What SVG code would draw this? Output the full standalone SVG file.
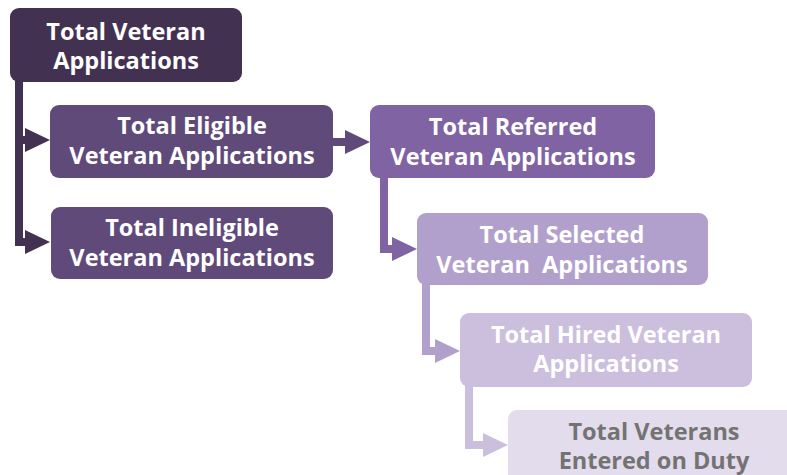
<svg xmlns="http://www.w3.org/2000/svg" width="787" height="475" viewBox="0 0 787 475">
<style>
.t{font-family:"Open Sans","Noto Sans","Liberation Sans",sans-serif;font-weight:bold;font-size:23.5px;text-anchor:middle;fill:#ffffff}
.d{fill:#737373}
.c{fill:none;stroke-width:8;stroke-linejoin:miter}
</style>
<defs>
<marker id="a1" markerUnits="userSpaceOnUse" markerWidth="25" markerHeight="24" viewBox="0 0 25 24" refX="3" refY="12" orient="auto"><path d="M0,0 L25,12 L0,24 Z" fill="#433152"/></marker>
<marker id="a2" markerUnits="userSpaceOnUse" markerWidth="25" markerHeight="24" viewBox="0 0 25 24" refX="3" refY="12" orient="auto"><path d="M0,0 L25,12 L0,24 Z" fill="#5f4a7a"/></marker>
<marker id="a3" markerUnits="userSpaceOnUse" markerWidth="25" markerHeight="24" viewBox="0 0 25 24" refX="3" refY="12" orient="auto"><path d="M0,0 L25,12 L0,24 Z" fill="#7f63a3"/></marker>
<marker id="a4" markerUnits="userSpaceOnUse" markerWidth="25" markerHeight="24" viewBox="0 0 25 24" refX="3" refY="12" orient="auto"><path d="M0,0 L25,12 L0,24 Z" fill="#b2a0cc"/></marker>
<marker id="a5" markerUnits="userSpaceOnUse" markerWidth="25" markerHeight="24" viewBox="0 0 25 24" refX="3" refY="12" orient="auto"><path d="M0,0 L25,12 L0,24 Z" fill="#cbbfdd"/></marker>
</defs>
<g id="connectors">
<path class="c" d="M19,78 V140 H28" stroke="#433152" marker-end="url(#a1)"/>
<path class="c" d="M19,78 V242 H28" stroke="#433152" marker-end="url(#a1)"/>
<path class="c" d="M330,142 H348" stroke="#5f4a7a" marker-end="url(#a2)"/>
<path class="c" d="M384,175 V249 H395" stroke="#7f63a3" marker-end="url(#a3)"/>
<path class="c" d="M426,282 V351 H438" stroke="#b2a0cc" marker-end="url(#a4)"/>
<path class="c" d="M469,384 V445 H486" stroke="#cbbfdd" marker-end="url(#a5)"/>
</g>
<g id="n1"><rect x="10" y="8" width="232" height="74" rx="9" fill="#433152"/><text class="t" x="126" y="40">Total Veteran</text><text class="t" x="126" y="69">Applications</text></g>
<g id="n2"><rect x="50" y="105" width="283" height="73" rx="9" fill="#5f4a7a"/><text class="t" x="192" y="134">Total Eligible</text><text class="t" x="192" y="164">Veteran Applications</text></g>
<g id="n3"><rect x="51" y="207" width="282" height="72" rx="9" fill="#5f4a7a"/><text class="t" x="192" y="236">Total Ineligible</text><text class="t" x="192" y="266">Veteran Applications</text></g>
<g id="n4"><rect x="370" y="105" width="285" height="73" rx="9" fill="#7f63a3"/><text class="t" x="513" y="135">Total Referred</text><text class="t" x="513" y="165">Veteran Applications</text></g>
<g id="n5"><rect x="417" y="213" width="291" height="72" rx="9" fill="#b2a0cc"/><text class="t" x="562" y="243">Total Selected</text><text class="t" x="562" y="273" xml:space="preserve">Veteran  Applications</text></g>
<g id="n6"><rect x="460" y="313" width="292" height="74" rx="9" fill="#cbbfdd"/><text class="t" x="606" y="343">Total Hired Veteran</text><text class="t" x="606" y="372">Applications</text></g>
<g id="n7"><rect x="508" y="410" width="300" height="80" rx="9" fill="#e3dcec"/><text class="t d" x="654" y="440">Total Veterans</text><text class="t d" x="654" y="469">Entered on Duty</text></g>
</svg>
